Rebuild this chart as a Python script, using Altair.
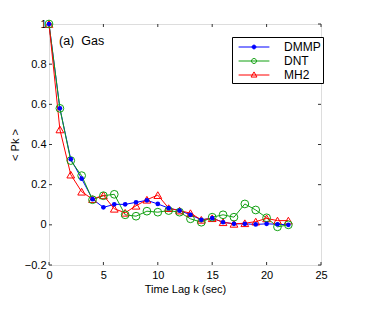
import altair as alt
import pandas as pd

lags = list(range(23))
dmmp = [1.0, 0.58, 0.327, 0.23, 0.128, 0.087, 0.102, 0.102, 0.112, 0.122, 0.104, 0.083, 0.071,
        0.05, 0.025, 0.033, 0.013, 0.005, 0.005, 0.002, 0.005, 0.003, 0.0]
dnt = [1.0, 0.58, 0.32, 0.245, 0.125, 0.145, 0.152, 0.05, 0.043, 0.068, 0.063, 0.071, 0.063,
       0.03, 0.013, 0.038, 0.05, 0.038, 0.104, 0.074, 0.035, -0.01, 0.0]
mh2 = [1.0, 0.475, 0.25, 0.165, 0.128, 0.147, 0.08, 0.06, 0.095, 0.125, 0.148, 0.083, 0.071,
       0.058, 0.025, 0.033, 0.013, 0.005, 0.008, 0.016, 0.032, 0.021, 0.021]
series_names = ["DMMP", "DNT", "MH2"]
series_colors = ["#0000ff", "#11a011", "#ff0000"]
series_fills = ["#0000ff", "white", "white"]
x_ticks = [0, 5, 10, 15, 20, 25]
y_ticks = [-0.2, 0, 0.2, 0.4, 0.6, 0.8, 1]
panel_label = ["(a)\u00a0\u00a0Gas"]
x_title = "Time Lag k (sec)"
y_title = "< Pk >"

rows = []
for name, vals in zip(series_names, [dmmp, dnt, mh2]):
    for k, v in zip(lags, vals):
        rows.append({"k": k, "pk": v, "series": name})
df = pd.DataFrame(rows)

W, H = 272, 241
FONT = "Liberation Sans"
xs = alt.Scale(domain=[0, 25], nice=False, zero=False)
ys = alt.Scale(domain=[-0.2, 1], nice=False, zero=False)
cs = alt.Scale(domain=series_names, range=series_colors)

xax = alt.Axis(values=x_ticks, title=x_title, ticks=False, domain=False, grid=False,
               labelFont=FONT, labelFontSize=11, labelColor="black", labelPadding=4,
               titleFont=FONT, titleFontSize=11, titleFontWeight="normal", titleColor="black",
               titlePadding=3, labelFlush=False)
yax = alt.Axis(values=y_ticks, title=y_title, ticks=False, domain=False, grid=False,
               labelExpr="datum.value < 0 ? '\u2212' + toString(-datum.value) : toString(datum.value)",
               labelFont=FONT, labelFontSize=11, labelColor="black", labelPadding=3,
               titleFont=FONT, titleFontSize=11, titleFontWeight="normal", titleColor="black",
               titlePadding=4, labelFlush=False)

base = alt.Chart(df)
X = alt.X("k:Q", scale=xs, axis=xax)
Y = alt.Y("pk:Q", scale=ys, axis=yax)

marker_style = {
    "DMMP": dict(shape="circle", filled=True, size=22),
    "DNT": dict(shape="circle", filled=False, size=60, strokeWidth=1),
    "MH2": dict(shape="triangle-up", filled=False, size=60, strokeWidth=1),
}

series_layers = []
for name, col in zip(series_names, series_colors):
    sub = base.transform_filter(alt.datum.series == name)
    ln = sub.mark_line(strokeWidth=1, color=col).encode(x=X, y=Y, order="k:Q")
    pt = sub.mark_point(color=col, opacity=1, **marker_style[name]).encode(x="k:Q", y="pk:Q")
    series_layers.append((ln, pt))

legend_paths = [
    "M-2.1,0H2.1M0.26,0A0.26,0.26 0 1,1 -0.26,0A0.26,0.26 0 1,1 0.26,0Z",
    "M-2.1,0H2.1M0.34,0A0.34,0.34 0 1,1 -0.34,0A0.34,0.34 0 1,1 0.34,0Z",
    "M-2.1,0H2.1M0,-0.42L0.4,0.28L-0.4,0.28Z",
]
leg = alt.Legend(title=None, orient="none", legendX=183, legendY=13,
                 strokeColor="black", fillColor="white", padding=2,
                 labelFont=FONT, labelFontSize=12, labelColor="black",
                 symbolSize=215, symbolStrokeWidth=1, labelOffset=22, rowPadding=0,
                 symbolOffset=12)
legend_layer = base.transform_filter("false").mark_point(filled=False, opacity=1).encode(
    x="k:Q", y="pk:Q",
    color=alt.Color("series:N", scale=cs, legend=leg),
    fill=alt.Fill("series:N", scale=alt.Scale(domain=series_names, range=series_fills), legend=leg),
    shape=alt.Shape("series:N", scale=alt.Scale(domain=series_names, range=legend_paths), legend=leg),
)

xt = pd.DataFrame({"v": x_ticks})
yt = pd.DataFrame({"v": y_ticks})
tick_col = "#333333"
xtick_b = alt.Chart(xt).mark_rule(color=tick_col, strokeWidth=1).encode(
    x="v:Q", y=alt.value(H), y2=alt.value(H - 3))
xtick_t = alt.Chart(xt).mark_rule(color=tick_col, strokeWidth=1).encode(
    x="v:Q", y=alt.value(0), y2=alt.value(3))
ytick_l = alt.Chart(yt).mark_rule(color=tick_col, strokeWidth=1).encode(
    y="v:Q", x=alt.value(0), x2=alt.value(3))
ytick_r = alt.Chart(yt).mark_rule(color=tick_col, strokeWidth=1).encode(
    y="v:Q", x=alt.value(W), x2=alt.value(W - 3))

label = alt.Chart(pd.DataFrame({"t": panel_label})).mark_text(
    align="left", baseline="middle", font=FONT, fontSize=12.5, color="black").encode(
    text="t:N", x=alt.value(10), y=alt.value(17))

layers = [xtick_b, xtick_t, ytick_l, ytick_r]
layers += [l for l, _ in series_layers]
layers += [series_layers[2][1], series_layers[1][1], series_layers[0][1]]
layers += [legend_layer, label]

chart = alt.layer(*layers).properties(
    width=W, height=H,
    autosize=alt.AutoSizeParams(type="none"),
    padding={"left": 41, "top": 16, "right": 40, "bottom": 50},
).configure_view(stroke="#444444", strokeWidth=1).configure(background="white")

chart.save("out.html", embed_options={"renderer": "svg", "actions": False})
